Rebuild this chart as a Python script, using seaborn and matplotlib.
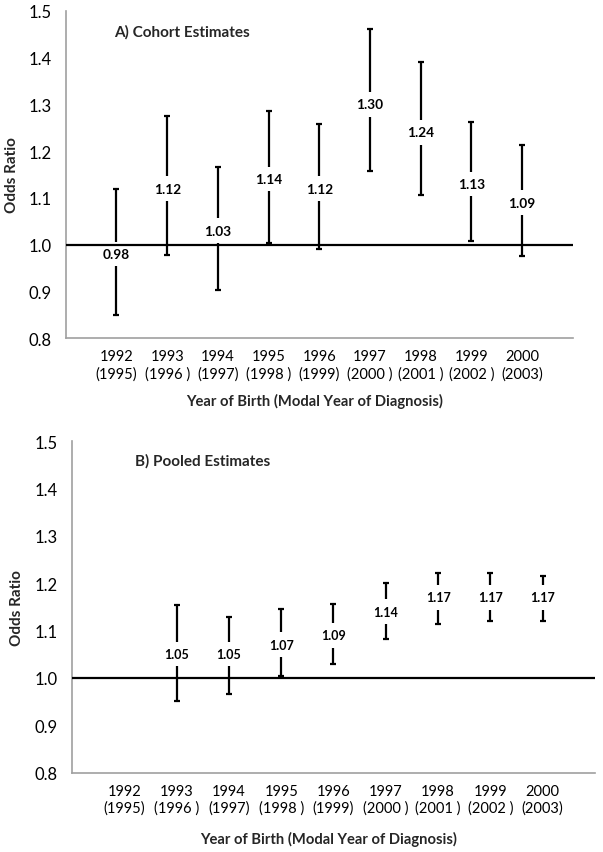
import numpy as np
import pandas as pd
import matplotlib
matplotlib.use("Agg")
import matplotlib.pyplot as plt
import seaborn as sns

# ---------------- data ----------------
years = [1992, 1993, 1994, 1995, 1996, 1997, 1998, 1999, 2000]
tick_labels = ["1992\n(1995)", "1993\n(1996 )", "1994\n(1997)", "1995\n(1998 )",
               "1996\n(1999)", "1997\n(2000 )", "1998\n(2001 )", "1999\n(2002 )",
               "2000\n(2003)"]

cohort_years = [1992, 1993, 1994, 1995, 1996, 1997, 1998, 1999, 2000]
cohort_or = [0.98, 1.12, 1.03, 1.14, 1.12, 1.30, 1.24, 1.13, 1.09]
cohort_lo = [0.85, 0.977, 0.904, 1.003, 0.99, 1.158, 1.107, 1.009, 0.975]
cohort_hi = [1.12, 1.274, 1.165, 1.285, 1.257, 1.46, 1.39, 1.262, 1.212]

pooled_years = [1993, 1994, 1995, 1996, 1997, 1998, 1999, 2000]
pooled_or = [1.05, 1.05, 1.07, 1.09, 1.14, 1.17, 1.17, 1.17]
pooled_lo = [0.951, 0.966, 1.004, 1.030, 1.082, 1.113, 1.121, 1.121]
pooled_hi = [1.154, 1.128, 1.145, 1.156, 1.200, 1.221, 1.221, 1.216]

# ---------------- style ----------------
sns.set_theme(style="white")
plt.rcParams["font.family"] = ["Lato", "DejaVu Sans"]
GRAY = "#a0a0a0"

fig = plt.figure(figsize=(6.03, 8.53), dpi=100)
axA = fig.add_axes([0.109, 0.6022, 0.841, 0.3841])
axB = fig.add_axes([0.1194, 0.0932, 0.8673, 0.3883])


def long_frame(yrs, est, lo, hi):
    rows = []
    for y, e, l, h in zip(yrs, est, lo, hi):
        for v in (l, e, h):
            rows.append({"year": y, "value": v})
    return pd.DataFrame(rows)


def draw(ax, yrs, est, lo, hi, title, title_xy, label_fs, ylab_x, xlab_y):
    df = long_frame(yrs, est, lo, hi)
    ax.axhline(1.0, color="black", lw=1.6, zorder=7)
    sns.lineplot(data=df, x="year", y="value", estimator="median",
                 errorbar=("pi", 100), err_style="bars", color="black",
                 lw=0, ax=ax, legend=False,
                 err_kws=dict(capsize=2.1, elinewidth=1.6, capthick=1.6,
                              zorder=3))
    for y, e in zip(yrs, est):
        ax.text(y, e, f"{e:.2f}", ha="center", va="center",
                fontsize=label_fs, fontweight="bold", color="black",
                zorder=5,
                bbox=dict(facecolor="white", edgecolor="none", pad=4.5))
    ax.set_xlim(1991, 2001)
    ax.set_ylim(0.8, 1.5)
    ax.set_xticks(list(range(1991, 2002)))
    ax.set_xticklabels([""] + tick_labels + [""], fontsize=10.5,
                       linespacing=1.25)
    ax.set_yticks(np.arange(0.8, 1.501, 0.1))
    ax.set_yticklabels([f"{v:.1f}" for v in np.arange(0.8, 1.501, 0.1)],
                       fontsize=12)
    for s in ("top", "right"):
        ax.spines[s].set_visible(False)
    for s in ("left", "bottom"):
        ax.spines[s].set_color(GRAY)
        ax.spines[s].set_linewidth(1.2)
    ax.tick_params(axis="y", direction="out", length=4, width=1,
                   color=GRAY, pad=6, labelcolor="black")
    ax.tick_params(axis="x", direction="out", length=3.5, width=1,
                   color=GRAY, pad=4.5, labelcolor="black")
    ax.set_ylabel("Odds Ratio", fontsize=11, fontweight="bold", va="center")
    ax.yaxis.set_label_coords(ylab_x, 0.5)
    ax.set_xlabel("Year of Birth (Modal Year of Diagnosis)", fontsize=10.6,
                  fontweight="bold", va="center")
    ax.xaxis.set_label_coords(0.49, xlab_y)
    ax.text(title_xy[0], title_xy[1], title, transform=ax.transAxes,
            ha="left", va="center", fontsize=11, fontweight="bold")
    ax.set_facecolor("white")


draw(axA, cohort_years, cohort_or, cohort_lo, cohort_hi,
     "A) Cohort Estimates", (0.095, 0.938), 9.8, -0.1066, -0.19)
draw(axB, pooled_years, pooled_or, pooled_lo, pooled_hi,
     "B) Pooled Estimates", (0.120, 0.943), 9.0, -0.1044, -0.2)

fig.savefig("out.png", dpi=100, facecolor="white")
